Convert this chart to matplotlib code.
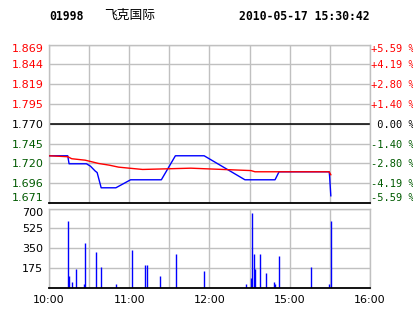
import matplotlib
matplotlib.use("Agg")
import matplotlib.pyplot as plt

# 分时数据 (minute index from 10:00, lunch break removed)
price_min = [0, 14, 15, 28, 31, 34.5, 36, 39, 50, 61, 84, 94.5, 116, 146.5, 169, 172, 209.5, 209.8, 210.7]
price_val = [1.730, 1.730, 1.720, 1.720, 1.717, 1.711, 1.709, 1.690, 1.690, 1.700, 1.700, 1.730,
             1.730, 1.700, 1.700, 1.710, 1.710, 1.7045, 1.680]

avg_min = [0, 14, 17, 27, 30, 37, 45, 52, 60, 70, 106, 151, 154, 209.5, 210.7]
avg_val = [1.7300, 1.7288, 1.7263, 1.7245, 1.7233, 1.7204, 1.7183, 1.7158, 1.7145, 1.7129,
           1.7145, 1.7115, 1.7100, 1.7100, 1.7063]

vol_min = [14, 15, 17, 20, 26, 27, 35, 39, 50, 62, 72, 73, 83, 95, 116, 147,
           151, 152, 153, 154, 158, 162, 168, 169, 172, 196, 209, 211]
vol_val = [590, 106, 50, 168, 35, 397, 318, 185, 35, 335, 203, 203, 106, 300, 150, 35,
           88, 662, 300, 168, 300, 132, 53, 35, 283, 185, 35, 592]

prev_close = 1.770
price_ticks = [1.671, 1.69575, 1.7205, 1.74525, 1.770, 1.79475, 1.8195, 1.84425, 1.869]
price_labels = ["1.671", "1.696", "1.720", "1.745", "1.770", "1.795", "1.819", "1.844", "1.869"]
pct_labels = ["-5.59 %", "-4.19 %", "-2.80 %", "-1.40 %", " 0.00 %", "+1.40 %", "+2.80 %", "+4.19 %", "+5.59 %"]
vol_ticks = [175, 350, 525, 700]
time_ticks = [0, 60, 120, 180, 240]
time_labels = ["10:00", "11:00", "12:00", "15:00", "16:00"]

GRID = "#c0c0c0"
GREEN = "#005a00"
W, H = 414, 314

fig = plt.figure(figsize=(W / 100, H / 100), dpi=100)
fig.patch.set_facecolor("white")

def box(l, t, r, b):
    return [l / W, 1 - b / H, (r - l) / W, (b - t) / H]

def label_color(v):
    if abs(v - prev_close) < 1e-6:
        return "black"
    return "red" if v > prev_close else GREEN

ax = fig.add_axes(box(49, 44.5, 370, 203))
axv = fig.add_axes(box(49, 208.5, 370, 288))

for a in (ax, axv):
    a.set_xlim(0, 240)
    a.set_xticks(range(0, 241, 30))
    a.grid(True, color=GRID, linewidth=1)
    a.set_axisbelow(True)
    for s in ("top", "left", "right"):
        a.spines[s].set_color(GRID)
        a.spines[s].set_linewidth(1)
    a.spines["bottom"].set_color("black")
    a.spines["bottom"].set_linewidth(1.3)
    a.tick_params(length=0)

# 价格面板
ax.set_ylim(price_ticks[0], price_ticks[-1])
ax.set_yticks(price_ticks)
ax.set_yticklabels(price_labels, fontsize=8, family="DejaVu Sans")
ax.tick_params(axis="y", pad=4)
ax.set_xticklabels([])
ax.axhline(prev_close, color="black", linewidth=1.1, zorder=2)
ax.plot(price_min, price_val, color="#0000ff", linewidth=1, zorder=3)
ax.plot(avg_min, avg_val, color="#ff0000", linewidth=1, zorder=4)

labs = ax.get_yticklabels()
for lab, v in zip(labs, price_ticks):
    lab.set_color(label_color(v))
labs[0].set_va("bottom")
labs[-1].set_va("top")

ax2 = ax.twinx()
ax2.set_ylim(ax.get_ylim())
ax2.set_yticks(price_ticks)
ax2.set_yticklabels(pct_labels, fontsize=7.5, family="DejaVu Sans Mono")
ax2.tick_params(length=0, pad=1)
for s in ax2.spines.values():
    s.set_visible(False)
labs2 = ax2.get_yticklabels()
for lab, v in zip(labs2, price_ticks):
    lab.set_color(label_color(v))
labs2[0].set_va("bottom")
labs2[-1].set_va("top")

# 成交量面板
axv.set_ylim(0, 700)
axv.set_yticks(vol_ticks)
axv.set_yticklabels([str(v) for v in vol_ticks], fontsize=8)
axv.tick_params(axis="y", pad=4)
axv.get_yticklabels()[-1].set_va("top")
axv.vlines(vol_min, 0, vol_val, color="#0000ff", linewidth=1)
axv.set_xticks(time_ticks, labels=time_labels, minor=False)
axv.set_xticks(range(0, 241, 30), minor=True)
axv.grid(True, which="minor", axis="x", color=GRID, linewidth=1)
axv.tick_params(axis="x", labelsize=8, pad=5, which="both", length=0)

# 标题
fig.text(49 / W, 1 - 16.5 / H, "01998", fontsize=8.3, weight="bold", family="DejaVu Sans Mono", va="center")
fig.text(104 / W, 1 - 15.5 / H, "飞克国际", fontsize=9.2, family=["Noto Sans CJK SC", "DejaVu Sans"], va="center")
fig.text(370 / W, 1 - 16.5 / H, "2010-05-17 15:30:42", fontsize=8.3, weight="bold",
         family="DejaVu Sans Mono", va="center", ha="right")

fig.savefig("out.png", dpi=100, facecolor="white")
